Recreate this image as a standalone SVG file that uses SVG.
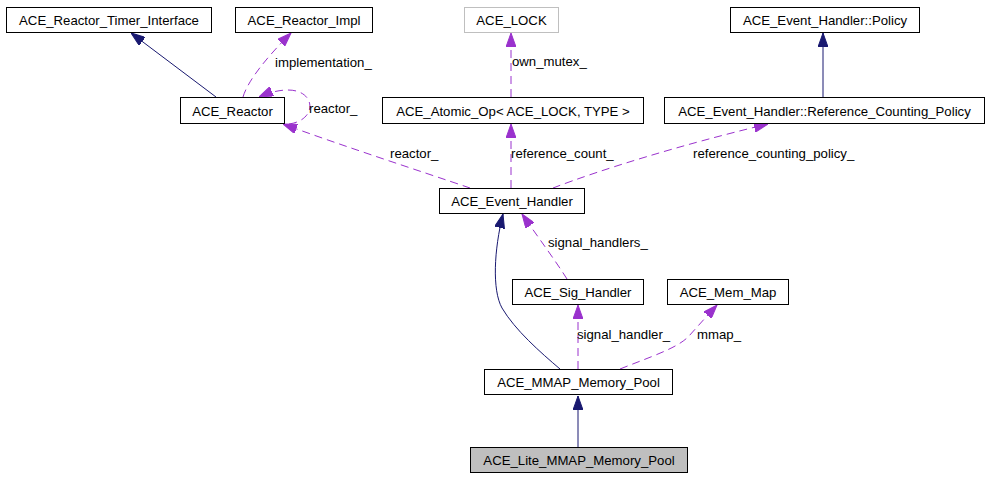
<svg xmlns="http://www.w3.org/2000/svg" width="987" height="477" viewBox="0 0 987 477">
<style>
.box{fill:#ffffff;stroke:#000000;stroke-width:1}
.gray{stroke:#bfbfbf}
.sel{fill:#bfbfbf}
text{font-family:"Liberation Sans",Arial,sans-serif;font-size:13.2px;fill:#000000}
.c{text-anchor:middle}
.inh{fill:none;stroke:#191970;stroke-width:1}
.use{fill:none;stroke:#9a32cd;stroke-width:1;stroke-dasharray:8,5}
</style>
<defs>
<marker id="an" viewBox="0 0 14 10" refX="14" refY="5" markerWidth="14" markerHeight="10" markerUnits="userSpaceOnUse" orient="auto">
<path d="M0,0 L14,5 L0,10 z" fill="#191970" stroke="#191970"/>
</marker>
<marker id="ap" viewBox="0 0 14 10" refX="14" refY="5" markerWidth="14" markerHeight="10" markerUnits="userSpaceOnUse" orient="auto">
<path d="M0,0 L14,5 L0,10 z" fill="#9a32cd" stroke="#9a32cd"/>
</marker>
</defs>
<rect width="987" height="477" fill="#ffffff"/>
<g id="edges">
<path class="inh" d="M216,97 L131,33" marker-end="url(#an)"/>
<path class="use" d="M243,97 C248,80 268,56 291,33" marker-end="url(#ap)"/>
<path class="use" d="M289,124 C318,120 316,90 288,90 C278,90 268,93 259,97" marker-end="url(#ap)"/>
<path class="use" d="M470,188 C420,171 340,145 283,124" marker-end="url(#ap)"/>
<path class="use" d="M511,97 L511,33" marker-end="url(#ap)"/>
<path class="use" d="M511,188 L511,124" marker-end="url(#ap)"/>
<path class="use" d="M553,188 C600,170 680,145 768,124" marker-end="url(#ap)"/>
<path class="inh" d="M823,97 L823,33" marker-end="url(#an)"/>
<path class="inh" d="M560,369 C540,352 515,330 502,308 C492,290 494,250 503,214" marker-end="url(#an)"/>
<path class="use" d="M567,279 C555,260 540,240 522,214" marker-end="url(#ap)"/>
<path class="use" d="M578,369 L578,305" marker-end="url(#ap)"/>
<path class="use" d="M620,369 C650,357 678,348 689,336 C698,326 706,317 717,305" marker-end="url(#ap)"/>
<path class="inh" d="M578,447 L578,396" marker-end="url(#an)"/>
<text x="275" y="67">implementation_</text>
<text x="309" y="113">reactor_</text>
<text x="512" y="66">own_mutex_</text>
<text x="390" y="158">reactor_</text>
<text x="511" y="158">reference_count_</text>
<text x="693" y="158">reference_counting_policy_</text>
<text x="548" y="247">signal_handlers_</text>
<text x="577" y="339">signal_handler_</text>
<text x="697" y="339">mmap_</text>
</g>
<g id="ACE_Reactor_Timer_Interface"><rect class="box" x="6.5" y="7.5" width="205" height="25"/><text class="c" x="109" y="25">ACE_Reactor_Timer_Interface</text></g>
<g id="ACE_Reactor_Impl"><rect class="box" x="235.5" y="7.5" width="137" height="25"/><text class="c" x="304" y="25">ACE_Reactor_Impl</text></g>
<g id="ACE_LOCK"><rect class="box gray" x="464.5" y="7.5" width="94" height="25"/><text class="c" x="511.5" y="25">ACE_LOCK</text></g>
<g id="ACE_Event_Handler_Policy"><rect class="box" x="730.5" y="7.5" width="189" height="25"/><text class="c" x="825" y="25">ACE_Event_Handler::Policy</text></g>
<g id="ACE_Reactor"><rect class="box" x="180.5" y="97.5" width="104" height="26"/><text class="c" x="232.5" y="115.5">ACE_Reactor</text></g>
<g id="ACE_Atomic_Op"><rect class="box" x="382.5" y="97.5" width="261" height="26"/><text class="c" x="513" y="115.5">ACE_Atomic_Op&lt; ACE_LOCK, TYPE &gt;</text></g>
<g id="ACE_Event_Handler_Reference_Counting_Policy"><rect class="box" x="664.5" y="97.5" width="320" height="26"/><text class="c" x="824.5" y="115.5">ACE_Event_Handler::Reference_Counting_Policy</text></g>
<g id="ACE_Event_Handler"><rect class="box" x="439.5" y="188.5" width="145" height="25"/><text class="c" x="512" y="206">ACE_Event_Handler</text></g>
<g id="ACE_Sig_Handler"><rect class="box" x="512.5" y="279.5" width="131" height="25"/><text class="c" x="578" y="297">ACE_Sig_Handler</text></g>
<g id="ACE_Mem_Map"><rect class="box" x="667.5" y="279.5" width="121" height="25"/><text class="c" x="728" y="297">ACE_Mem_Map</text></g>
<g id="ACE_MMAP_Memory_Pool"><rect class="box" x="484.5" y="369.5" width="188" height="25"/><text class="c" x="578.5" y="387">ACE_MMAP_Memory_Pool</text></g>
<g id="ACE_Lite_MMAP_Memory_Pool"><rect class="box sel" x="470.5" y="447.5" width="217" height="25"/><text class="c" x="579" y="465">ACE_Lite_MMAP_Memory_Pool</text></g>
</svg>
